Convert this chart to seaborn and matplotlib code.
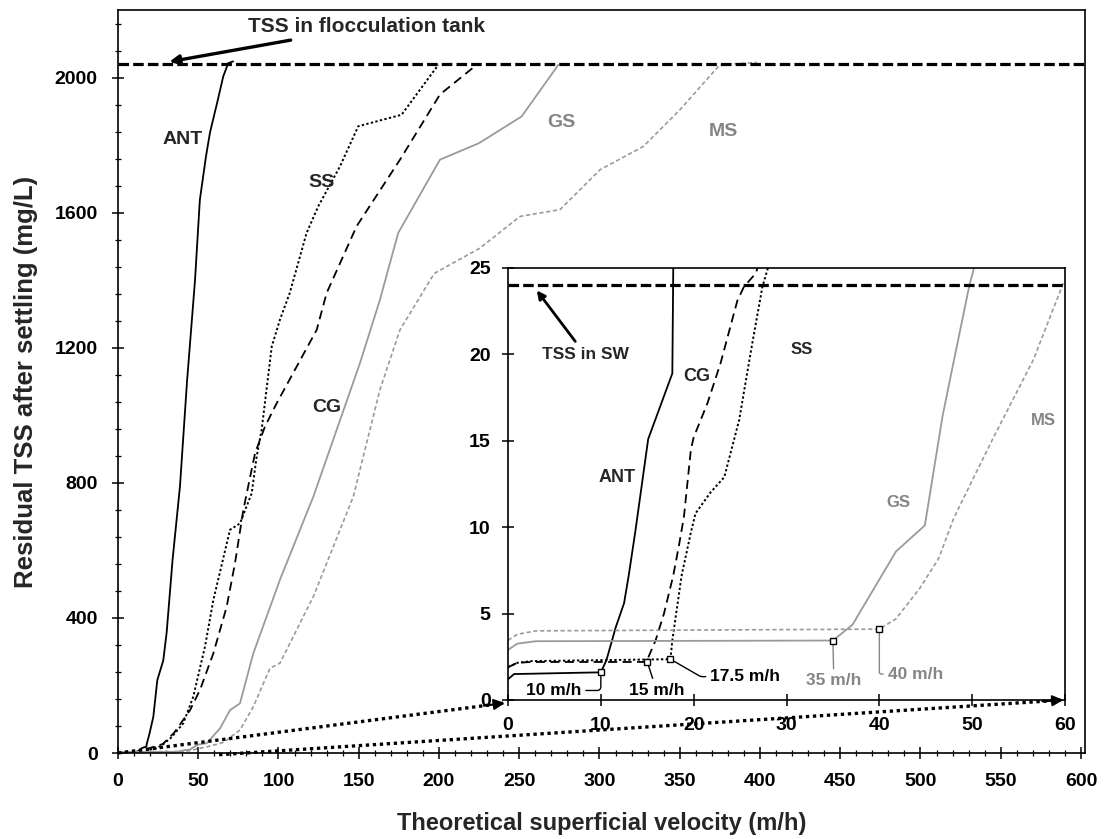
import matplotlib
matplotlib.use("Agg")
import matplotlib.pyplot as plt
from matplotlib.ticker import MultipleLocator
import numpy as np
import seaborn as sns

# residual TSS (mg/L) vs theoretical superficial velocity (m/h)
ant_x = [0, 0.65, 10, 10.6, 11.6, 12.5, 13, 13.7, 15.1, 17.7, 17.8, 19.5, 22, 24.5, 28.2, 30.3,
         34, 38.6, 43, 48, 49.5, 51, 54.8, 57.3, 62, 65.6, 68.7, 71.7]
ant_y = [1.2, 1.5, 1.6, 2.3, 4.2, 5.6, 7.2, 9.7, 15.1, 18.9, 25, 55, 107, 216, 274, 356,
         572, 789, 1100, 1401, 1520, 1638, 1766, 1837, 1930, 2004, 2043, 2048]

ss_x = [0, 1, 2.5, 17.5, 17.7, 18.7, 19.3, 19.7, 20.2, 21.8, 23.3, 24.9, 26.2, 27.4, 28, 33,
        40.7, 46.9, 54.2, 59.4, 69.8, 76, 83.3, 86.4, 89.5, 95.8, 100.9, 107, 117.5, 124.8,
        138.3, 149.7, 176.7, 199.6]
ss_y = [1.9, 2.15, 2.25, 2.36, 3.45, 7.2, 8.7, 9.7, 10.8, 12, 12.9, 16.2, 20.3, 23.9, 25, 45,
        88, 167, 315, 453, 661, 680, 769, 878, 957, 1204, 1283, 1362, 1540, 1619,
        1737, 1856, 1890, 2038]

cg_x = [0, 1, 2.5, 14.9, 15.9, 16.8, 17.8, 18.4, 18.95, 19.7, 20, 21.5, 22.9, 24.7, 25.4, 26.7,
        28, 35, 44.9, 51.1, 59.4, 67.7, 72.9, 78.1, 85.4, 91.6, 98.9, 123.8, 130, 148.7,
        175.7, 200.6, 223.5]
cg_y = [1.9, 2.15, 2.2, 2.2, 3.45, 5.0, 7.2, 8.9, 10.6, 14.5, 15.2, 17.2, 19.5, 23.1, 23.9, 24.7,
        27, 60, 127, 187, 295, 433, 562, 720, 888, 967, 1036, 1253, 1362, 1560,
        1757, 1950, 2038]

gs_x = [0, 1, 3, 35, 37.1, 41.8, 44.9, 46.8, 47.9, 49.7, 50.2, 55.3, 63.6, 69.8, 76, 84.3,
        100.9, 121.7, 150.8, 163.2, 174.6, 200.6, 225, 251.5, 274.4]
gs_y = [2.9, 3.26, 3.4, 3.44, 4.35, 8.6, 10.1, 16.4, 19.3, 24, 25, 29, 73, 127, 147, 295,
        513, 759, 1155, 1342, 1540, 1757, 1806, 1885, 2038]

ms_x = [0, 1, 3, 40, 41.8, 44.4, 46.4, 48, 50, 52.3, 56.6, 59.8, 61, 66, 76, 84.3, 94.7,
        100.9, 121.7, 146.6, 163.2, 175.7, 197, 225.5, 250.5, 275.4, 300.3, 327.3, 350.2,
        375, 398]
ms_y = [3.45, 3.8, 4.0, 4.1, 4.7, 6.5, 8.2, 10.5, 12.7, 15.2, 19.7, 24.1, 25, 32, 68, 137, 251,
        266, 463, 759, 1076, 1253, 1420, 1495, 1589, 1609, 1727, 1796, 1905,
        2038, 2045]

tss_floc = 2040   # TSS in flocculation tank
tss_sw = 24       # TSS in SW

# critical velocities marked in the inset
crit_v = [10, 15, 17.5, 35, 40]
crit_tss = [1.6, 2.2, 2.36, 3.44, 4.1]
crit_labels = ["10 m/h", "15 m/h", "17.5 m/h", "35 m/h", "40 m/h"]

GRAY = "#9a9a9a"
TGRAY = "#858585"

sns.set_style("ticks")
plt.rcParams["font.family"] = ["Liberation Sans", "DejaVu Sans"]
plt.rcParams["font.weight"] = "bold"
plt.rcParams["axes.labelweight"] = "bold"

fig = plt.figure(figsize=(11.08, 8.39), dpi=100)
ax = fig.add_axes([0.1065, 0.1025, 0.8727, 0.8855])
ins = fig.add_axes([0.4585, 0.1657, 0.5027, 0.5149])

series = [
    (ant_x, ant_y, "black", "-", 1.3),
    (ss_x, ss_y, "black", (0, (1.2, 1.2)), 1.4),
    (cg_x, cg_y, "black", (0, (5, 3)), 1.3),
    (gs_x, gs_y, GRAY, "-", 1.3),
    (ms_x, ms_y, GRAY, (0, (2.5, 1.6)), 1.2),
]


def draw_curves(a):
    for xs, ys, c, ls, lw in series:
        sns.lineplot(x=xs, y=ys, ax=a, color=c, linestyle=ls, linewidth=lw,
                     estimator=None, sort=False)


def style_axes(a, size):
    for sp in a.spines.values():
        sp.set_visible(True)
        sp.set_color("black")
        sp.set_linewidth(1.2)
    a.tick_params(which="both", direction="inout", colors="black", labelsize=size)
    a.tick_params(which="major", length=9, width=1.1, pad=10)
    a.tick_params(which="minor", length=5, width=0.9)


# main panel
draw_curves(ax)
ax.axhline(tss_floc, color="black", lw=2.3, ls=(0, (3.3, 1.3)))
ax.set_xlim(0, 602.5)
ax.set_ylim(0, 2200)
ax.set_xticks(np.arange(0, 601, 50))
ax.set_yticks(np.arange(0, 2001, 400))
ax.xaxis.set_minor_locator(MultipleLocator(10))
ax.yaxis.set_minor_locator(MultipleLocator(80))
style_axes(ax, 14)
ax.set_xlabel("Theoretical superficial velocity (m/h)", fontsize=17, labelpad=16)
ax.set_ylabel("Residual TSS after settling (mg/L)", fontsize=18.5, labelpad=12)

ax.annotate("TSS in flocculation tank", xy=(32, 2047), xytext=(81, 2151),
            ha="left", va="center", fontsize=15,
            arrowprops=dict(arrowstyle="-|>", color="black", lw=2.4,
                            mutation_scale=14, shrinkA=3, shrinkB=0))
ax.text(40.5, 1816, "ANT", ha="center", va="center", fontsize=14)
ax.text(127, 1689, "SS", ha="center", va="center", fontsize=14)
ax.text(130, 1022, "CG", ha="center", va="center", fontsize=14)
ax.text(276, 1867, "GS", ha="center", va="center", fontsize=14, color=TGRAY)
ax.text(377, 1840, "MS", ha="center", va="center", fontsize=14, color=TGRAY)

# inset: zoom on the low range
draw_curves(ins)
ins.axhline(tss_sw, color="black", lw=2.3, ls=(0, (3.3, 1.3)))
ins.set_xlim(0, 60)
ins.set_ylim(0, 25)
ins.set_xticks(np.arange(0, 61, 10))
ins.set_yticks(np.arange(0, 26, 5))
style_axes(ins, 14)
ins.tick_params(which="major", length=9, pad=8)
ins.set_xlabel("")
ins.set_ylabel("")
ins.plot(crit_v, crit_tss, ls="none", marker="s", ms=5, mfc="white", mec="black",
         mew=1, zorder=5)

ins.annotate("TSS in SW", xy=(3.1, 23.7), xytext=(8.3, 20.0), ha="center", va="center",
             fontsize=12.5, arrowprops=dict(arrowstyle="-|>", color="black", lw=2,
                                            mutation_scale=12, shrinkA=2, shrinkB=0))
ins.text(20.3, 18.7, "CG", ha="center", va="center", fontsize=13)
ins.text(31.6, 20.3, "SS", ha="center", va="center", fontsize=12)
ins.text(11.75, 12.9, "ANT", ha="center", va="center", fontsize=13)
ins.text(42, 11.4, "GS", ha="center", va="center", fontsize=12, color=TGRAY)
ins.text(57.7, 16.2, "MS", ha="center", va="center", fontsize=12, color=TGRAY)

# callouts for the critical velocities
callout_pos = [(4.9, 0.55, "center", "black", "angle,angleA=0,angleB=90,rad=4"),
               (16.0, 0.55, "center", "black", "arc3"),
               (21.8, 1.35, "left", "black", "angle,angleA=0,angleB=-30,rad=2"),
               (35.1, 1.1, "center", TGRAY, "arc3"),
               (40.9, 1.5, "left", TGRAY, "angle,angleA=0,angleB=90,rad=2")]
for v, t, lab, (tx, ty, ha, c, cs) in zip(crit_v, crit_tss, crit_labels, callout_pos):
    ins.annotate(lab, xy=(v, t), xytext=(tx, ty), ha=ha, va="center", fontsize=12.5,
                 color=c, arrowprops=dict(arrowstyle="-", color=c, lw=1,
                                          shrinkA=1, shrinkB=3, connectionstyle=cs))

# dotted connectors from the origin region of the main panel to the inset
ins.plot([0, 241], [0, 148], transform=ax.transData, clip_on=False, color="black",
         lw=2.4, ls=(0, (1, 1.1)))
ins.plot([63, 589], [-5, 157], transform=ax.transData, clip_on=False, color="black",
         lw=2.4, ls=(0, (1, 1.1)))
ins.annotate("", xy=(241, 148), xytext=(228, 140), xycoords=ax.transData,
             textcoords=ax.transData, annotation_clip=False,
             arrowprops=dict(arrowstyle="-|>", color="black", lw=1.5, mutation_scale=16,
                             shrinkA=0, shrinkB=0))
ins.annotate("", xy=(589, 157), xytext=(576, 153), xycoords=ax.transData,
             textcoords=ax.transData, annotation_clip=False,
             arrowprops=dict(arrowstyle="-|>", color="black", lw=1.5, mutation_scale=16,
                             shrinkA=0, shrinkB=0))

fig.savefig("out.png", dpi=100)
